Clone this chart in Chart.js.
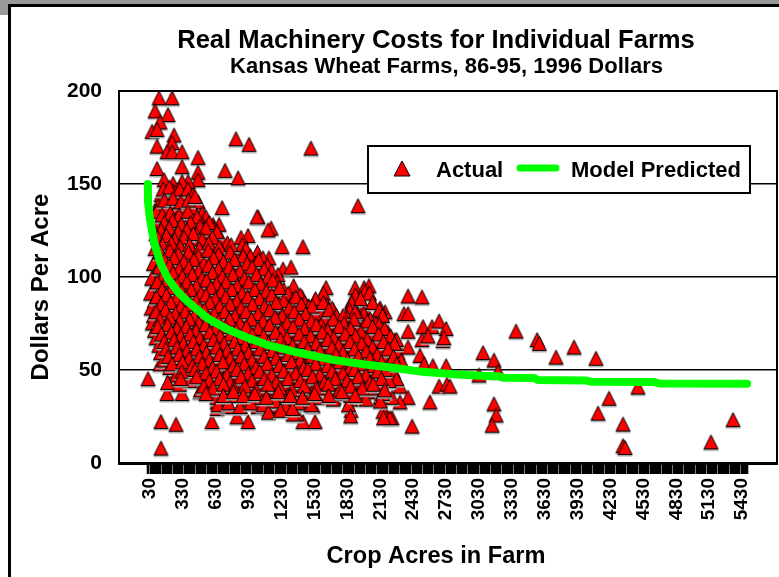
<!DOCTYPE html>
<html>
<head>
<meta charset="utf-8">
<title>Real Machinery Costs for Individual Farms</title>
<script src="https://cdn.jsdelivr.net/npm/chart.js@4/dist/chart.umd.min.js"></script>
<style>
  html, body { margin: 0; padding: 0; background: #fff; overflow: hidden; }
  #stage { position: relative; width: 779px; height: 577px; overflow: hidden; }
  #topbar { position: absolute; left: 0; top: 0; width: 779px; height: 4px; background: #999; }
  #corner { position: absolute; left: 0; top: 0; width: 8px; height: 15px; background: #999; }
  #frameTop { position: absolute; left: 8px; top: 4px; width: 771px; height: 3px; background: #000; }
  #frameLeft { position: absolute; left: 8px; top: 4px; width: 3px; height: 573px; background: #000; }
  canvas { position: absolute; left: 0; top: 0; }
</style>
</head>
<body>
<div id="stage">
  <div id="topbar"></div>
  <div id="corner"></div>
  <div id="frameTop"></div>
  <div id="frameLeft"></div>
  <canvas id="chart" width="779" height="577"></canvas>
</div>
<script>
const chartTitle = "Real Machinery Costs for Individual Farms"
const chartSubtitle = "Kansas Wheat Farms, 86-95, 1996 Dollars"
const xAxisTitle = "Crop Acres in Farm"
const yAxisTitle = "Dollars Per Acre"
const legendLabels = ["Actual", "Model Predicted"]

const xTickLabels = [30, 330, 630, 930, 1230, 1530, 1830, 2130, 2430, 2730, 3030, 3330, 3630, 3930, 4230, 4530, 4830, 5130, 5430]
const yTickLabels = [0, 50, 100, 150, 200]

const modelAcres = [10, 12, 30, 66, 121, 194, 285, 350, 550, 732, 915, 1090, 1380, 1690, 1991, 2230, 2520, 2830, 3100, 3210, 3250, 3530, 3570, 4000, 4050, 4630, 4680, 5475]
const modelCosts = [150, 140, 131, 119, 108, 99, 92, 88, 78, 72, 67.5, 63.7, 59.4, 55.6, 53, 51.3, 49, 47.6, 46.8, 46.6, 45.9, 45.7, 44.6, 44.4, 43.7, 43.5, 42.7, 42.6]

// [acres, dollars per acre]
const actualPoints = [
  [112,195],[231,195],[76,188],[194,186],[121,182],[48,177],[94,178],[249,175],[94,169],[231,171],[185,166],[231,166],[322,166],[468,163],
  [94,157],[322,158],[814,173],[933,170],[1498,168],[714,156],[833,152],[468,155],[468,151],[377,150],[322,150],[240,149],[158,151],
  [687,136],[1927,137],[1015,131],[1134,125],[660,127],[605,127],[924,121],[860,120],[870,116],[1234,115],[1425,115],[468,129],[459,137],[331,142],[240,145],[121,140],[322,137],[696,113],
  [3368,69.6],[3560,65],[3580,63],[3733,55.6],[3897,61],[4097,55],[4216,33.5],[4116,25.5],[4344,19.6],[4344,8],[4362,7],[4480,39.5],[5146,10],[5347,22],
  [3067,58],[3167,54],[3030,46],[3204,48],[3167,30.5],[3186,24.5],[3150,19],[2583,31.5],[2420,18.5],[2666,40],[2738,41],[2766,40],
  [2383,88.5],[2510,88],[2346,79],[2383,79],[2520,72],[2602,72],[2666,75],[2730,71],[2383,69.5],[2510,65],[2565,67],[2702,64.5],[2710,66],[2383,61],[2492,56.5],[2530,52],[2610,51],[2730,51],
  [2264,65],[2237,59],[2273,63],[2310,54],[2173,80],[2310,40],[2383,34],[2310,31.5],[2237,34],[2173,37],[2237,23],[2173,26],[2246,45],[2200,43],
  [1425,21],[1535,21],[1370,25],[1334,25],[1863,27],[1863,33],[1708,34],[2155,26.5],[2219,23],[2018,37],[2155,38],[2128,34],[1106,28],[1216,29],[1516,29.5],[1425,30.5],[1280,34],[1516,38],
  [130,21],[267,19.5],[595,21],[823,23.5],[924,21],[12,44],[121,52],[240,48],[358,48.5],[276,41],[185,36],[322,36],[486,37],[650,37],[641,31.5],[641,28],[504,44],[851,29],[741,29],[1015,29],[130,6.7],
  [1006,131],[1106,124],[1115,109],[1243,103],[1316,104],[1197,100],[1352,90],[1416,88],[1635,93],[1608,89],[1699,81],[1535,86],[1471,83],[1900,93],[1982,93],[2027,94],[1872,86],[1982,82],[2128,82],[1781,75],[1599,78],[1918,73],
  [130,143],[190,141],[262,144],[345,142],
  [105,137],[215,139],[290,136],[400,138],[470,139],
  [90,134],[170,135],[250,133],[330,134],[415,136],[505,133],
  [125,130],[205,129],[285,131],[370,130],[450,128],[540,131],
  [100,126],[175,127],[255,125],[340,126],[430,124],[510,127],[610,125],
  [85,122],[150,121],[225,123],[310,122],[395,120],[480,123],[570,121],[680,119],
  [115,118],[190,117],[270,119],[360,116],[445,118],[530,116],[620,118],[735,117],
  [75,114],[160,113],[240,115],[325,113],[410,114],[500,112],[585,114],[680,113],[790,112],[905,114],[1010,112],
  [100,110],[195,109],[280,111],[370,109],[460,110],[545,108],[640,110],[725,109],[830,108],[945,110],[1060,109],
  [60,106],[140,105],[225,107],[315,105],[400,106],[490,104],[580,106],[670,105],[770,107],[880,104],[990,106],[1100,105],
  [90,102],[175,101],[265,103],[350,101],[440,102],[530,100],[620,103],[715,101],[810,100],[920,102],[1030,100],[1140,102],
  [45,98],[130,97],[215,99],[300,97],[390,98],[475,96],[570,99],[660,97],[750,96],[860,98],[965,97],[1075,99],[1190,96],
  [80,94],[165,93],[255,95],[345,93],[430,94],[520,92],[610,95],[700,93],[800,92],[900,94],[1010,93],[1120,95],[1250,92],[1340,94],
  [35,90],[120,89],[205,91],[295,89],[385,90],[470,88],[565,91],[650,89],[745,88],[845,90],[950,89],[1060,91],[1170,88],[1290,90],[1400,89],[1610,90],[1905,89],[1990,91],[2030,90],
  [70,86],[155,85],[245,87],[335,85],[420,86],[510,84],[600,87],[690,85],[790,84],[890,86],[995,85],[1105,87],[1210,84],[1330,86],[1440,85],[1540,87],[1640,84],[1870,85],[1950,87],[2060,85],
  [40,82],[110,81],[195,83],[285,81],[375,82],[460,80],[550,83],[640,81],[735,80],[830,82],[935,81],[1045,83],[1150,80],[1265,82],[1380,81],[1480,83],[1575,80],[1690,82],[1850,81],[1980,79],[2120,81],
  [60,78],[145,77],[235,79],[320,77],[410,78],[495,76],[590,79],[680,77],[780,76],[875,78],[980,77],[1090,79],[1200,76],[1310,78],[1420,77],[1530,79],[1620,76],[1730,78],[1830,77],[1920,79],[2040,76],[2150,78],
  [50,74],[125,73],[210,75],[300,73],[385,74],[470,72],[560,75],[650,73],[740,72],[835,74],[930,73],[1035,75],[1140,72],[1250,74],[1360,73],[1465,75],[1570,72],[1680,74],[1780,73],[1880,75],[1970,72],[2090,74],
  [70,70],[165,69],[250,71],[340,69],[425,70],[515,68],[605,71],[700,69],[790,68],[885,70],[990,69],[1095,71],[1200,68],[1305,70],[1415,69],[1520,71],[1630,68],[1730,70],[1835,69],[1930,71],[2030,68],[2140,70],[2200,69],
  [85,66],[190,65],[280,67],[365,65],[455,66],[550,64],[640,67],[735,65],[830,64],[930,66],[1040,65],[1145,67],[1250,64],[1360,66],[1470,65],[1575,67],[1680,64],[1790,66],[1880,65],[1985,67],[2090,64],[2190,66],[2280,65],
  [110,62],[215,61],[305,63],[395,61],[490,62],[580,60],[675,63],[770,61],[865,60],[970,62],[1075,61],[1185,63],[1290,60],[1400,62],[1510,61],[1620,63],[1720,60],[1825,62],[1930,61],[2030,63],[2130,60],[2240,62],
  [125,58],[235,57],[325,59],[420,57],[510,58],[605,56],[700,59],[795,57],[895,56],[1000,58],[1110,57],[1220,59],[1330,56],[1440,58],[1545,57],[1655,59],[1760,56],[1860,58],[1965,57],[2070,59],[2170,56],[2290,58],
  [150,54],[260,53],[350,55],[445,53],[535,54],[630,52],[725,55],[825,53],[925,52],[1030,54],[1140,53],[1255,55],[1365,52],[1475,54],[1585,53],[1690,55],[1795,52],[1900,54],[2000,53],[2105,55],[2210,52],[2320,54],
  [210,50],[300,49],[385,51],[475,49],[570,50],[665,48],[755,51],[855,49],[960,48],[1065,50],[1175,49],[1285,51],[1395,48],[1510,50],[1615,49],[1725,51],[1830,48],[1930,50],[2035,49],[2140,51],[2250,48],
  [270,46],[350,45],[430,47],[510,45],[600,46],[695,44],[790,47],[890,45],[990,44],[1100,46],[1210,45],[1320,47],[1430,44],[1540,46],[1650,45],[1755,47],[1860,44],[1965,46],[2070,45],[2170,47],[2280,44],
  [190,42],[300,41],[395,43],[540,41],[635,42],[730,40],[825,43],[925,41],[1030,40],[1140,42],[1250,41],[1360,43],[1470,40],[1575,42],[1685,41],[1790,43],[1895,40],[2000,42],[2100,41],[2210,43],
  [490,38],[575,37],[670,39],[765,37],[860,38],[960,36],[1070,39],[1180,37],[1290,36],[1400,38],[1510,37],[1620,39],[1730,36],[1825,38],[1930,37],[2040,39],[2150,36],
  [640,34],[720,33],[810,35],[905,33],[1005,34],[1110,32],[1220,35],[1330,33],[1440,32],[1560,34],[1700,33],[1860,35],[2000,33],[2130,32],
  [650,30],[745,31],[850,29],[950,31],[1060,30],[1170,32],[1270,29],[1380,31],[1500,30],[1840,30],
  [1110,26],[1220,27],[1330,28],[1860,24],[2160,23],
  [150,146],[205,147],[300,146],[375,146],[420,143],[160,140],[240,141],[310,139],[380,140],[440,142],
  [140,132],[215,133],[295,132],[375,134],[460,131],[160,128],[235,129],[315,127],[400,128],[485,126],[570,128],
  [130,124],[205,125],[285,123],[365,124],[450,122],[540,125],[640,123],[100,120],[180,121],[255,119],[340,120],[425,122],[505,119],[600,120],
  [145,116],[225,117],[305,115],[390,116],[480,114],[565,117],[660,115],[770,116],[125,112],[210,113],[290,111],[380,112],[470,110],[560,113],[655,111],[760,112],[880,110],
  [160,108],[250,109],[340,107],[430,108],[520,106],[610,109],[700,107],[800,108],[915,106],[1020,108],[115,104],[205,105],[295,103],[385,104],[475,102],[565,105],[655,103],[750,104],[850,102],[960,104],[1070,103],
  [150,100],[240,101],[325,99],[415,100],[505,98],[600,101],[690,99],[785,100],[890,98],[1000,100],[1110,99],[95,96],[185,97],[275,95],[365,96],[455,94],[545,97],[635,95],[725,96],[825,94],[930,96],[1040,95],[1150,97],
  [140,92],[230,93],[320,91],[405,92],[495,90],[585,93],[680,91],[775,92],[870,90],[985,92],[1090,91],[1210,93],[90,88],[180,89],[270,87],[360,88],[450,86],[540,89],[625,87],[720,88],[820,86],[920,88],[1030,87],[1140,89],[1250,86],[1360,88],
  [130,84],[220,85],[310,83],[400,84],[485,82],[575,85],[665,83],[760,84],[860,82],[965,84],[1075,83],[1180,85],[1300,82],[1410,84],[1510,83],[1610,85],[85,80],[170,81],[260,79],[350,80],[435,78],[525,81],[615,79],[710,80],[805,78],[905,80],[1015,79],[1120,81],[1235,78],[1345,80],[1450,79],[1660,81],[1790,78],[1900,80],
  [120,76],[210,77],[300,75],[390,76],[475,74],[565,77],[655,75],[755,76],[850,74],[955,76],[1060,75],[1170,77],[1280,74],[1390,76],[1500,75],[1590,73],[1700,76],[1800,74],[1890,76],[2010,75],[2120,73],
  [100,72],[190,73],[275,71],[360,72],[450,70],[535,73],[625,71],[720,72],[815,70],[910,72],[1015,71],[1120,73],[1225,70],[1335,72],[1440,71],[1545,73],[1650,70],[1755,72],[1860,71],[1955,69],[2060,72],[2170,71],
  [135,68],[225,69],[310,67],[395,68],[485,66],[575,69],[670,67],[765,68],[860,66],[960,68],[1065,67],[1175,69],[1280,66],[1390,68],[1495,67],[1600,69],[1705,66],[1810,68],[1905,67],[2010,65],[2115,68],[2225,67],
  [160,64],[250,65],[335,63],[425,64],[520,62],[610,65],[705,63],[800,64],[900,62],[1005,64],[1110,63],[1220,65],[1330,62],[1435,64],[1545,63],[1650,65],[1750,62],[1855,64],[1960,63],[2060,61],[2160,64],[2260,63],
  [175,60],[275,61],[365,59],[455,60],[545,58],[640,61],[735,59],[830,60],[930,58],[1035,60],[1145,59],[1250,61],[1360,58],[1470,60],[1580,59],[1690,61],[1790,58],[1895,60],[2000,59],[2100,57],[2200,60],
  [195,56],[295,57],[385,55],[480,56],[570,54],[665,57],[760,55],[860,56],[960,54],[1070,56],[1180,55],[1290,57],[1400,54],[1510,56],[1620,55],[1725,57],[1830,54],[1930,56],[2035,55],[2140,53],[2250,56],
  [230,52],[325,53],[415,51],[505,52],[600,50],[695,53],[790,51],[890,52],[995,50],[1100,52],[1210,51],[1320,53],[1430,50],[1540,52],[1650,51],[1760,53],[1860,50],[1965,52],[2070,51],[2175,49],[2280,52],
  [320,48],[440,49],[540,47],[635,48],[730,46],[825,49],[925,47],[1030,48],[1140,46],[1250,48],[1360,47],[1470,49],[1580,46],[1690,48],[1790,47],[1895,49],[2000,46],[2105,48],
  [310,44],[455,45],[570,43],[665,44],[760,42],[860,45],[960,43],[1070,44],[1180,42],[1290,44],[1400,43],[1510,45],[1620,42],[1720,44],[1825,43],[1930,45],[2035,42],[2140,44],
  [520,40],[605,39],[700,41],[795,39],[895,40],[995,38],[1105,41],[1215,39],[1325,38],[1435,40],[1545,39],[1655,41],[1760,38],[1860,40],[1965,39],[2065,41],[2170,38],
  [540,36],[700,35],[790,37],[880,35],[985,36],[1090,34],[1200,37],[1310,35],[1420,34],[1530,36],[1660,35],[1780,37],[1900,35]
]

// fixed plot box
const plotBox = { left: 119, top: 91, right: 777, bottom: 463 }
const fontName = "'Liberation Sans', Arial, sans-serif"

// chart.js triangle is too flat, the original marker is as tall as it is wide
function makeMarker() {
  const c = document.createElement('canvas')
  c.width = 17
  c.height = 22
  const g = c.getContext('2d')
  g.fillStyle = '#aaa'
  g.fillRect(1, 16, 15, 1.5)
  g.beginPath()
  g.moveTo(8.5, 1.5)
  g.lineTo(15.5, 15.5)
  g.lineTo(1.5, 15.5)
  g.closePath()
  g.fillStyle = '#ff0000'
  g.strokeStyle = '#000'
  g.lineWidth = 1
  g.fill()
  g.stroke()
  return c
}

const plotFrame = {
  id: 'plotFrame',
  beforeDatasetsDraw(chart) {
    const { ctx, chartArea } = chart
    ctx.save()
    ctx.strokeStyle = '#000'
    ctx.lineWidth = 2
    ctx.strokeRect(chartArea.left, chartArea.top, chartArea.right - chartArea.left, chartArea.bottom - chartArea.top)
    ctx.restore()
  }
}

const chartTexts = {
  id: 'chartTexts',
  afterDraw(chart) {
    const ctx = chart.ctx
    ctx.save()
    ctx.fillStyle = '#000'
    ctx.textAlign = 'center'
    ctx.textBaseline = 'alphabetic'
    ctx.font = 'bold 25.6px ' + fontName
    ctx.fillText(chartTitle, 436, 48)
    ctx.font = 'bold 22px ' + fontName
    ctx.fillText(chartSubtitle, 446.5, 73)
    ctx.font = 'bold 23.6px ' + fontName
    ctx.fillText(xAxisTitle, 436, 563)
    ctx.font = 'bold 24px ' + fontName
    ctx.translate(48, 287)
    ctx.rotate(-Math.PI / 2)
    ctx.fillText(yAxisTitle, 0, 0)
    ctx.restore()
  }
}

const boxLegend = {
  id: 'boxLegend',
  afterDatasetsDraw(chart) {
    const ctx = chart.ctx
    ctx.save()
    ctx.fillStyle = '#fff'
    ctx.strokeStyle = '#000'
    ctx.lineWidth = 2
    ctx.fillRect(368, 146, 382, 47)
    ctx.strokeRect(368, 146, 382, 47)

    ctx.fillStyle = '#f00'
    ctx.lineWidth = 1
    ctx.beginPath()
    ctx.moveTo(402, 161)
    ctx.lineTo(410, 176)
    ctx.lineTo(394, 176)
    ctx.closePath()
    ctx.fill()
    ctx.stroke()

    ctx.strokeStyle = '#00ff00'
    ctx.lineWidth = 7
    ctx.lineCap = 'round'
    ctx.beginPath()
    ctx.moveTo(520, 168)
    ctx.lineTo(556, 168)
    ctx.stroke()

    ctx.fillStyle = '#000'
    ctx.font = 'bold 22px ' + fontName
    ctx.textBaseline = 'alphabetic'
    ctx.fillText(legendLabels[0], 436, 177)
    ctx.fillText(legendLabels[1], 571, 177)
    ctx.restore()
  }
}

new Chart(document.getElementById('chart'), {
  type: 'scatter',
  data: {
    datasets: [
      {
        label: legendLabels[1],
        data: modelAcres.map((a, i) => ({ x: a, y: modelCosts[i] })),
        showLine: true,
        pointRadius: 0,
        borderColor: '#00ff00',
        borderWidth: 8,
        borderCapStyle: 'round',
        borderJoinStyle: 'round',
        tension: 0,
        clip: false
      },
      {
        label: legendLabels[0],
        data: actualPoints.map(p => ({ x: p[0], y: p[1] })),
        pointStyle: makeMarker(),
        pointRadius: 8,
        clip: false
      }
    ]
  },
  options: {
    responsive: false,
    animation: false,
    layout: { autoPadding: false, padding: { left: 0, top: plotBox.top, right: 779 - plotBox.right, bottom: 0 } },
    plugins: {
      legend: { display: false },
      title: { display: false },
      tooltip: { enabled: false }
    },
    scales: {
      x: {
        type: 'linear',
        // 30 acres sits at x=150, 0.1097 px per acre
        min: -253,
        max: 5748,
        afterFit: scale => {
          scale.height = 577 - plotBox.bottom
          scale.paddingLeft = 0
          scale.paddingRight = 0
        },
        afterBuildTicks: scale => {
          const marks = []
          for (let a = 10; a <= 5480; a += 10) marks.push({ value: a })
          scale.ticks = marks
        },
        ticks: {
          autoSkip: false,
          minRotation: 90,
          maxRotation: 90,
          padding: 4,
          color: '#000',
          font: { family: fontName, size: 19, weight: 'bold' },
          callback: v => xTickLabels.includes(v) ? String(v) : ''
        },
        grid: { drawOnChartArea: false, drawTicks: true, tickLength: 11, tickWidth: 1.6, tickColor: '#000' },
        border: { color: '#000', width: 3 }
      },
      y: {
        min: 0,
        max: 200,
        afterFit: scale => {
          scale.width = plotBox.left
          scale.paddingTop = 0
          scale.paddingBottom = 0
        },
        afterBuildTicks: scale => { scale.ticks = yTickLabels.map(v => ({ value: v })) },
        ticks: {
          padding: 17,
          color: '#000',
          font: { family: fontName, size: 21, weight: 'bold' }
        },
        grid: { color: '#000', lineWidth: 1.5, drawTicks: false },
        border: { color: '#000', width: 2 }
      }
    }
  },
  plugins: [plotFrame, chartTexts, boxLegend]
})
</script>
</body>
</html>
